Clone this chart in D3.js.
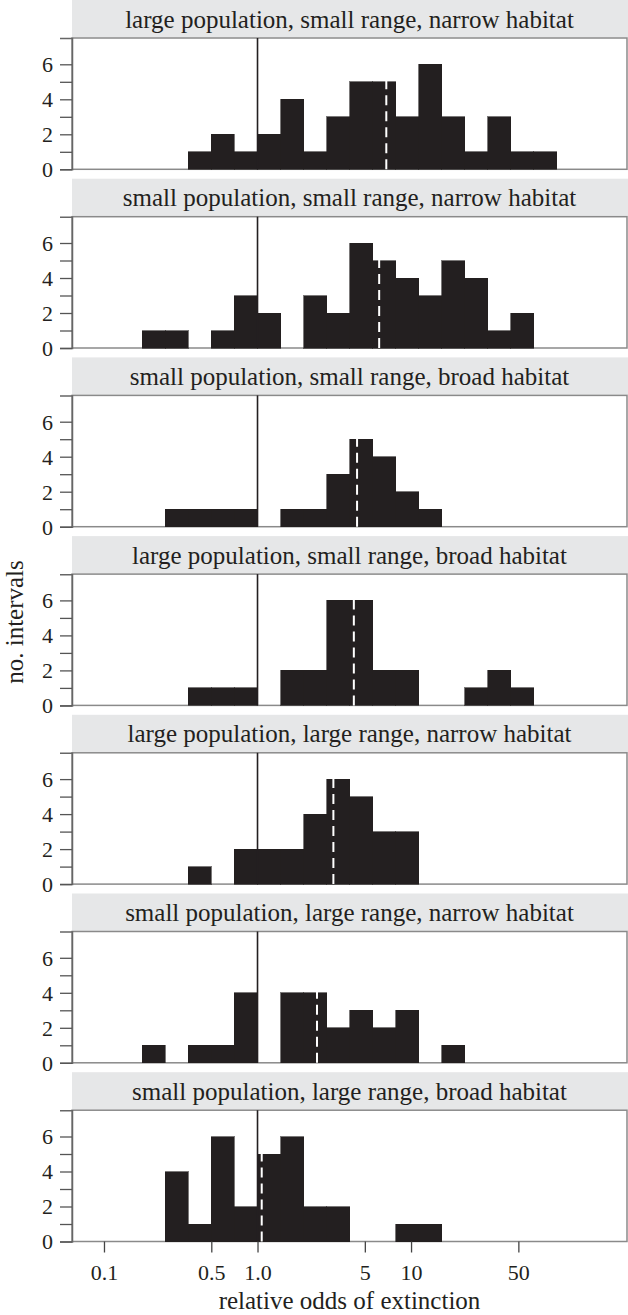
<!DOCTYPE html>
<html><head><meta charset="utf-8">
<script src="https://cdn.jsdelivr.net/npm/d3@7"></script>
<style>body{margin:0;background:#fff}svg{display:block}text{font-family:"Liberation Serif","Times New Roman",serif;fill:#231f20}</style>
</head><body><svg id="c" width="628" height="1315"></svg>
<script>
const panelTitles = [
  "large population, small range, narrow habitat",
  "small population, small range, narrow habitat",
  "small population, small range, broad habitat",
  "large population, small range, broad habitat",
  "large population, large range, narrow habitat",
  "small population, large range, narrow habitat",
  "small population, large range, broad habitat"
];
const binEdges = [0.1778,0.2512,0.3548,0.5012,0.7079,1.0,1.4125,1.9953,2.8184,3.9811,5.6234,7.9433,11.220,15.849,22.387,31.623,44.668,63.096,89.125];
const counts1 = [0,0,1,2,1,2,4,1,3,5,5,3,6,3,1,3,1,1];
const counts2 = [1,1,0,1,3,2,0,3,2,6,5,4,3,5,4,1,2,0];
const counts3 = [0,1,1,1,1,0,1,1,3,5,4,2,1,0,0,0,0,0];
const counts4 = [0,0,1,1,1,0,2,2,6,6,2,2,0,0,1,2,1,0];
const counts5 = [0,0,1,0,2,2,2,4,6,5,3,3,0,0,0,0,0,0];
const counts6 = [1,0,1,1,4,0,4,4,2,3,2,3,0,1,0,0,0,0];
const counts7 = [0,4,1,6,2,5,6,2,2,0,0,1,1,0,0,0,0,0];
const medians = [6.9, 6.2, 4.45, 4.24, 3.12, 2.44, 1.065];
const xTicks = [0.1, 0.5, 1, 5, 10, 50];
const xTickLabels = ["0.1","0.5","1.0","5","10","50"];
const yTicks = [0,1,2,3,4,5,6];
const yTickLabels = [0,2,4,6];
const xDomain = [0.0619, 255];
const yDomain = [0, 7.5];

const allCounts = [counts1,counts2,counts3,counts4,counts5,counts6,counts7];
const svg = d3.select("#c");
const L = 72, R = 627, pitch = 178.7, stripH = 37.5, plotTop = 38, base = 169.3;
const x = d3.scaleLog().domain(xDomain).range([L, R]);
const barColor = "#231f20", border = "#8a8a8a";

allCounts.forEach((cnts, i) => {
  const t = i * pitch;
  const g = svg.append("g");
  const y = d3.scaleLinear().domain(yDomain).range([t + base, t + base - 131.25]);
  g.append("rect").attr("x", L).attr("y", t).attr("width", 628 - L).attr("height", stripH).attr("fill", "#e6e7e8");
  g.append("text").attr("x", (L + R) / 2).attr("y", t + 27.5).attr("text-anchor", "middle")
    .style("font-size", "25px").text(panelTitles[i]);
  g.append("rect").attr("x", L).attr("y", t + plotTop).attr("width", R - L).attr("height", base - plotTop)
    .attr("fill", "#fff").attr("stroke", border).attr("stroke-width", 1.5);
  const bins = cnts.map((c, j) => ({x0: binEdges[j], x1: binEdges[j + 1], c})).filter(d => d.c > 0);
  g.selectAll("rect.bar").data(bins).join("rect").attr("class", "bar")
    .attr("x", d => x(d.x0)).attr("width", d => x(d.x1) - x(d.x0))
    .attr("y", d => y(d.c)).attr("height", d => y(0) - y(d.c))
    .attr("fill", barColor).attr("stroke", barColor).attr("stroke-width", 0.6)
    .attr("shape-rendering", "crispEdges");
  g.append("line").attr("x1", x(1)).attr("x2", x(1)).attr("y1", t + plotTop).attr("y2", y(0))
    .attr("stroke", barColor).attr("stroke-width", 1.6);
  g.append("line").attr("x1", x(medians[i])).attr("x2", x(medians[i])).attr("y1", y(0)).attr("y2", y(6.2))
    .attr("stroke", "#fff").attr("stroke-width", 2).attr("stroke-dasharray", "10,6");
  const ya = d3.axisLeft(y).tickValues(yTicks).tickSize(12).tickPadding(7)
    .tickFormat(d => yTickLabels.includes(d) ? d : "");
  const yg = g.append("g").attr("transform", `translate(${L},0)`).call(ya);
  yg.select(".domain").attr("stroke", "#666").attr("stroke-width", 1.5);
  yg.selectAll(".tick line").attr("stroke", "#555").attr("stroke-width", 1.3);
  yg.selectAll(".tick text").style("font-size", "22px").attr("fill", "#231f20").attr("dy", "0.34em");
  if (i === allCounts.length - 1) {
    const xa = d3.axisBottom(x).tickValues(xTicks).tickSize(11).tickPadding(12)
      .tickFormat((d, k) => xTickLabels[k]);
    const xg = g.append("g").attr("transform", `translate(0,${t + base})`).call(xa);
    xg.select(".domain").remove();
    xg.selectAll(".tick line").attr("stroke", "#444").attr("stroke-width", 1.3);
    xg.selectAll(".tick text").style("font-size", "22px").attr("fill", "#231f20");
  }
});
svg.append("text").attr("x", (L + R) / 2).attr("y", 1309).attr("text-anchor", "middle")
  .style("font-size", "25px").text("relative odds of extinction");
svg.append("text").attr("transform", "translate(23,622) rotate(-90)").attr("text-anchor", "middle")
  .style("font-size", "25px").text("no. intervals");
</script></body></html>
